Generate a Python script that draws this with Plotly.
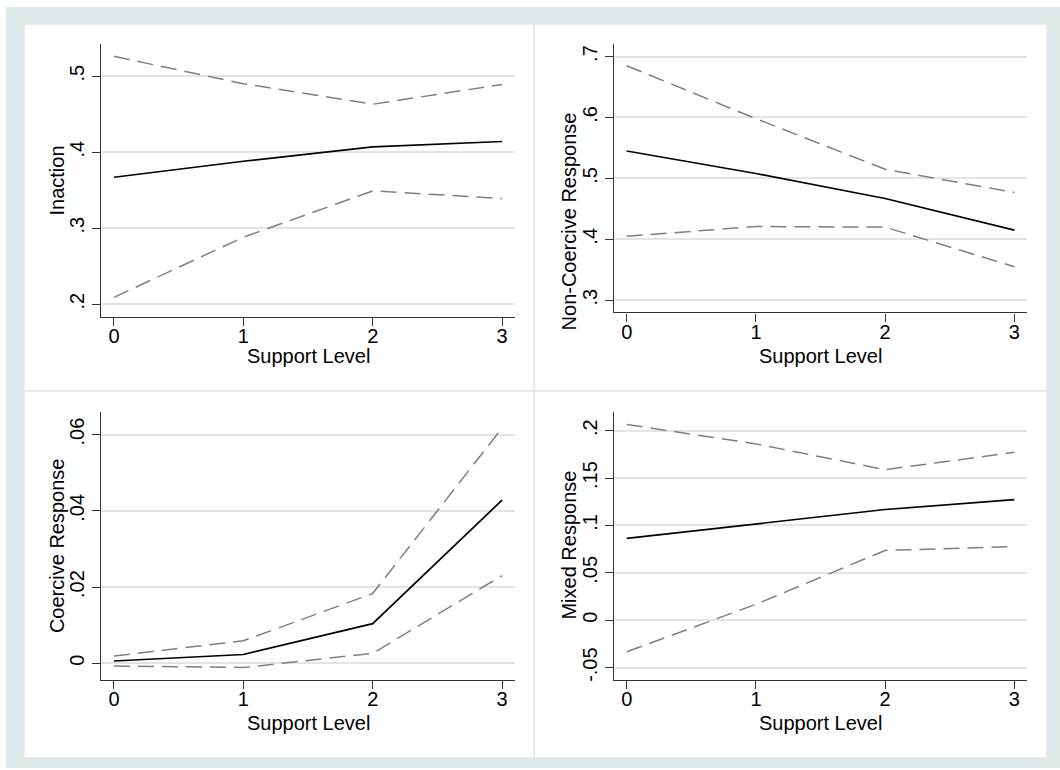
import plotly.graph_objects as go

# ---------------- data ----------------
support = [0, 1, 2, 3]
x_ticks = [0, 1, 2, 3]
x_ticktext = ["0", "1", "2", "3"]

inaction_mean = [0.367, 0.388, 0.407, 0.414]
inaction_upper = [0.526, 0.490, 0.463, 0.489]
inaction_lower = [0.209, 0.288, 0.349, 0.339]
inaction_ticks = [0.2, 0.3, 0.4, 0.5]
inaction_ticktext = [".2", ".3", ".4", ".5"]

noncoercive_mean = [0.545, 0.508, 0.467, 0.415]
noncoercive_upper = [0.685, 0.598, 0.515, 0.477]
noncoercive_lower = [0.405, 0.421, 0.420, 0.355]
noncoercive_ticks = [0.3, 0.4, 0.5, 0.6, 0.7]
noncoercive_ticktext = [".3", ".4", ".5", ".6", ".7"]

coercive_mean = [0.0006, 0.0023, 0.0104, 0.0428]
coercive_upper = [0.0019, 0.0059, 0.0183, 0.0617]
coercive_lower = [-0.0007, -0.0011, 0.0026, 0.0230]
coercive_ticks = [0, 0.02, 0.04, 0.06]
coercive_ticktext = ["0", ".02", ".04", ".06"]

mixed_mean = [0.0863, 0.1013, 0.1168, 0.1273]
mixed_upper = [0.2065, 0.186, 0.1588, 0.1771]
mixed_lower = [-0.0333, 0.0168, 0.0736, 0.0778]
mixed_ticks = [-0.05, 0, 0.05, 0.1, 0.15, 0.2]
mixed_ticktext = ["-.05", "0", ".05", ".1", ".15", ".2"]

x_title = "Support Level"
y_titles = ["Inaction", "Non-Coercive Response", "Coercive Response", "Mixed Response"]

# ---------------- layout helpers ----------------
W, H = 1060, 770
FONT = "Liberation Sans, Arial, Helvetica, sans-serif"
FS = 20
BG = "#dfebeb"
GRID = "#e4e4e4"
AXIS = "#333333"
CI = "#7f7f7f"


def px_x(p):
    return p / W


def px_y(p):
    return 1 - p / H


panels = [
    (inaction_mean, inaction_upper, inaction_lower, inaction_ticks, inaction_ticktext,
     [0.1829, 0.542], (101, 515), (44.3, 318), (57, 181), 357),
    (noncoercive_mean, noncoercive_upper, noncoercive_lower, noncoercive_ticks, noncoercive_ticktext,
     [0.2799, 0.7203], (613.8, 1027.3), (44.3, 313.3), (569, 222), 357),
    (coercive_mean, coercive_upper, coercive_lower, coercive_ticks, coercive_ticktext,
     [-0.00437, 0.06586], (101, 515), (413.3, 681.7), (57, 547.5), 725),
    (mixed_mean, mixed_upper, mixed_lower, mixed_ticks, mixed_ticktext,
     [-0.063, 0.2194], (613.8, 1027.3), (413.3, 681.7), (569, 547), 725),
]

fig = go.Figure()
annotations = []
shapes = []

shapes.append(dict(type="rect", xref="paper", yref="paper",
                   x0=px_x(6), x1=1, y0=0, y1=px_y(7),
                   fillcolor=BG, line=dict(width=0), layer="below"))
for (x0, y0, x1, y1) in [(24, 24, 534, 392), (534, 24, 1047, 392),
                         (24, 392, 534, 760), (534, 392, 1047, 760)]:
    shapes.append(dict(type="rect", xref="paper", yref="paper",
                       x0=px_x(x0), x1=px_x(x1), y0=px_y(y1), y1=px_y(y0),
                       fillcolor="white", line=dict(color="#e6e6e6", width=1.5),
                       layer="below"))

for i, (mean, up, lo, yt, ytt, yr, xd, yd, ytp, xty) in enumerate(panels):
    n = "" if i == 0 else str(i + 1)
    xa, ya = "x" + n, "y" + n
    for vals, col, dash, wid in [(up, CI, "16px,8px", 1.5), (lo, CI, "16px,8px", 1.5),
                                 (mean, "black", "solid", 1.7)]:
        fig.add_trace(go.Scatter(x=support, y=vals, mode="lines", xaxis=xa, yaxis=ya,
                                 line=dict(color=col, width=wid, dash=dash),
                                 showlegend=False, hoverinfo="skip"))
    common = dict(showline=True, linecolor=AXIS, linewidth=1.2, ticks="outside",
                  ticklen=8, tickwidth=1.2, tickcolor=AXIS, zeroline=False,
                  tickfont=dict(family=FONT, size=FS, color="black"))
    fig.layout["xaxis" + n] = dict(
        domain=[px_x(xd[0]), px_x(xd[1])], range=[-0.1, 3.1], anchor=ya,
        tickvals=x_ticks, ticktext=x_ticktext, showgrid=False,
        ticklabelstandoff=-7, **common)
    fig.layout["yaxis" + n] = dict(
        domain=[px_y(yd[1]), px_y(yd[0])], range=yr, anchor=xa,
        tickvals=yt, ticktext=ytt, tickangle=-90, showgrid=True,
        gridcolor=GRID, gridwidth=1.5, **common)
    annotations.append(dict(text=x_title, xref="paper", yref="paper",
                            x=px_x((xd[0] + xd[1]) / 2), y=px_y(xty),
                            xanchor="center", yanchor="middle", showarrow=False,
                            font=dict(family=FONT, size=FS, color="black")))
    annotations.append(dict(text=y_titles[i], xref="paper", yref="paper",
                            x=px_x(ytp[0]), y=px_y(ytp[1]), textangle=-90,
                            xanchor="center", yanchor="middle", showarrow=False,
                            font=dict(family=FONT, size=FS, color="black")))

fig.update_layout(width=W, height=H, margin=dict(l=0, r=0, t=0, b=0),
                  paper_bgcolor="white", plot_bgcolor="rgba(0,0,0,0)",
                  shapes=shapes, annotations=annotations, showlegend=False)

fig.write_html("out.html", config={"displayModeBar": False},
               post_script="document.body.style.margin='0';document.body.style.overflow='hidden';")
